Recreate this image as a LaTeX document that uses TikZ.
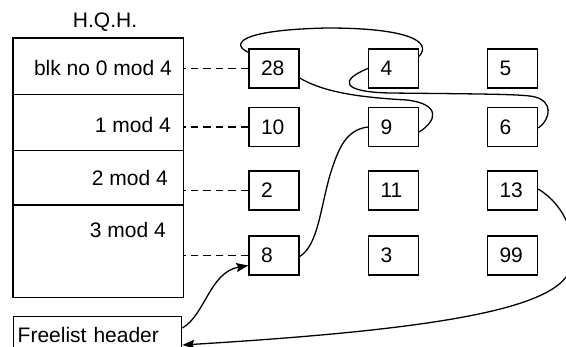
\documentclass[tikz,border=0pt]{standalone}
\usepackage{fontspec}
\setmainfont{Liberation Sans}
\usetikzlibrary{arrows.meta,calc}
\begin{document}
\begin{tikzpicture}[x=1pt,y=-1pt,
  every node/.style={font=\fontsize{21}{25}\selectfont},
  cell/.style={minimum width=170pt, inner sep=0pt},
  rule/.style={line width=1.4pt},
  blk/.style={draw, line width=1.4pt, minimum height=39pt, inner xsep=12pt,
    inner ysep=0pt, text width=26pt, align=left},
  link/.style={line width=1.3pt},
  ptr/.style={dash pattern=on 7.5pt off 5pt, line width=1.5pt},
  tip/.style={-{Stealth[length=12pt,width=9pt,inset=2pt]}}]
\clip (0,0) rectangle (566,347);

% hash queue header table
\node at (105,22) (hqh) {H.Q.H.};
\node[cell, minimum height=56pt, anchor=north west] (r1) at (13,38) {};
\node[cell, minimum height=56pt, anchor=north] (r2) at (r1.south) {};
\node[cell, minimum height=54pt, anchor=north] (r3) at (r2.south) {};
\node[cell, minimum height=92pt, anchor=north] (r4) at (r3.south) {};
\draw[rule] (r1.north west) rectangle (r4.south east);
\draw[rule] (r1.south west) -- (r1.south east);
\draw[rule] (r2.south west) -- (r2.south east);
\draw[rule] (r3.south west) -- (r3.south east);
\node[anchor=base east, inner sep=0pt] (l1) at (172,76) {blk no 0 mod 4};
\node[anchor=base east, inner sep=0pt] (l2) at (171,132.5) {1 mod 4};
\node[anchor=base east, inner sep=0pt] (l3) at (168,185.5) {2 mod 4};
\node[anchor=base east, inner sep=0pt] (l4) at (166,238) {3 mod 4};

% free list header
\node[draw, line width=1.4pt, anchor=north west, minimum width=168pt,
  minimum height=36pt, inner xsep=4pt, text width=160pt, align=left]
  (fh) at (13,316) {Freelist header};

% buffers
\node[blk] (b28) at (274,68.5) {28};
\node[blk] (b4)  at (393.5,68.5) {4};
\node[blk] (b5)  at (512.5,68.5) {5};
\node[blk] (b10) at (274,127) {10};
\node[blk] (b9)  at (393.5,127) {9};
\node[blk] (b6)  at (512.5,127) {6};
\node[blk] (b2)  at (274,190.5) {2};
\node[blk] (b11) at (393.5,190.5) {11};
\node[blk] (b13) at (512.5,190.5) {13};
\node[blk] (b8)  at (274,255.5) {8};
\node[blk] (b3)  at (393.5,255.5) {3};
\node[blk] (b99) at (512.5,255.5) {99};

% hash queue heads
\draw[ptr] (b28.west) -- (b28.west -| r1.east);
\draw[ptr] (b10.west) -- (b10.west -| r2.east);
\draw[ptr] (b2.west)  -- (b2.west -| r3.east);
\draw[ptr] (b8.west)  -- (b8.west -| r4.east);

% free list chain
\draw[link] ($(b28.north west)+(0,4)$) .. controls (232,45) and (235,30) .. (327,28)
  .. controls (410,28) and (432,42) .. ($(b4.north east)+(0,8)$);
\draw[link] ($(b28.east)+(0,9.5)$) .. controls (320,90) and (350,97) .. (407,100)
  .. controls (440,104) and (438,120) .. ($(b9.east)+(0,5)$);
\draw[link] (b4.west) .. controls (340,80) and (340,92) .. (390,93)
  .. controls (480,94) and (525,94) .. (535,97)
  .. controls (552,101) and (552,118) .. ($(b6.east)+(0,1)$);
\draw[link] (b9.west) .. controls (345,130) and (338,150) .. (330,175)
  .. controls (320,210) and (318,245) .. ($(b8.east)+(0,1)$);
\draw[link,tip] ($(fh.north east)+(0,12)$) .. controls (205,315) and (210,272)
  .. ($(b8.west)+(0,10)$);
\draw[link,tip] ($(b13.east)+(0,-1.5)$) .. controls (565,205) and (580,240) .. (570,270)
  .. controls (555,310) and (430,330) .. ($(fh.north east)+(0,29)$);
\end{tikzpicture}
\end{document}
